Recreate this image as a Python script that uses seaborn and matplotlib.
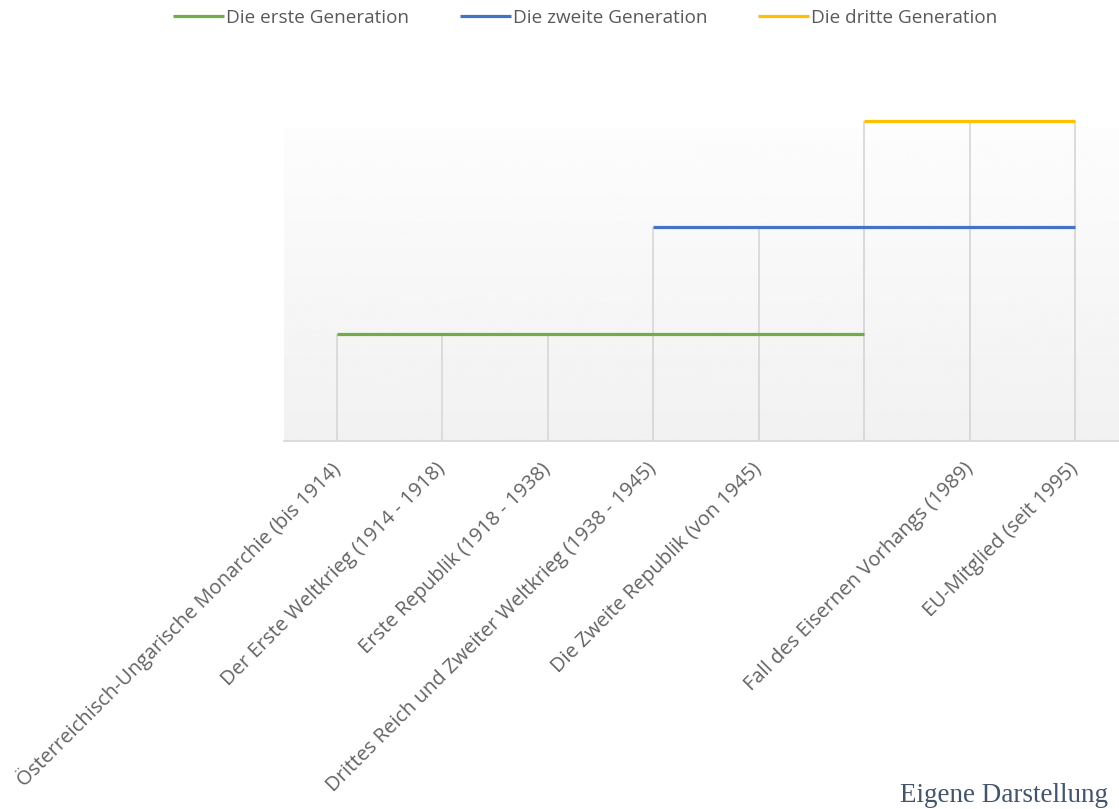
import numpy as np
import pandas as pd
import matplotlib
matplotlib.use("Agg")
import matplotlib.pyplot as plt
import seaborn as sns

categories = [
    "Österreichisch-Ungarische Monarchie (bis 1914)",
    "Der Erste Weltkrieg (1914 - 1918)",
    "Erste Republik (1918 - 1938)",
    "Drittes Reich und Zweiter Weltkrieg (1938 - 1945)",
    "Die Zweite Republik (von 1945)",
    "",
    "Fall des Eisernen Vorhangs (1989)",
    "EU-Mitglied (seit 1995)",
]
series_names = ["Die erste Generation", "Die zweite Generation", "Die dritte Generation"]
gen1 = [1, 1, 1, 1, 1, 1, np.nan, np.nan]
gen2 = [np.nan, np.nan, np.nan, 2, 2, 2, 2, 2]
gen3 = [np.nan, np.nan, np.nan, np.nan, np.nan, 3, 3, 3]
colors = ["#70ad47", "#4472c4", "#ffc000"]

sns.set_theme(style="white")
plt.rcParams["font.family"] = ["Open Sans", "DejaVu Sans"]

rows = []
for name, vals in zip(series_names, [gen1, gen2, gen3]):
    for i, v in enumerate(vals):
        rows.append({"pos": i, "value": v, "series": name})
df = pd.DataFrame(rows).dropna()

fig = plt.figure(figsize=(11.19, 8.09), dpi=100)
ax = fig.add_axes([284 / 1119, 1 - 441 / 809, 844 / 1119, (441 - 128) / 809])
ax.set_xlim(-0.5, len(categories) - 0.5)
ax.set_ylim(0, 2.93)

# soft vertical gradient in the plot area
grad = np.linspace(0.99, 0.945, 256).reshape(-1, 1)
ax.imshow(grad, extent=[-0.5, len(categories) - 0.5, 0, 2.93], aspect="auto",
          cmap="gray", vmin=0, vmax=1, zorder=0)

# drop lines
for x, y in zip(df["pos"], df["value"]):
    ax.plot([x, x], [0, y], color="#d9d9d9", lw=1.3, zorder=1, clip_on=False)

sns.lineplot(data=df, x="pos", y="value", hue="series", hue_order=series_names,
             palette=colors, linewidth=2.3, ax=ax, zorder=3, estimator=None,
             legend=True)
for line in ax.lines:
    line.set_clip_on(False)
    line.set_solid_capstyle("butt")

for s in ["top", "right", "left"]:
    ax.spines[s].set_visible(False)
ax.spines["bottom"].set_color("#d9d9d9")
ax.spines["bottom"].set_linewidth(1.3)

ax.set_yticks([])
ax.set_xticks(range(len(categories)))
ax.set_xticklabels(categories, rotation=45, ha="right", va="center",
                   rotation_mode="anchor", fontsize=14.5, color="#636363")
ax.tick_params(axis="x", length=0, pad=18)
ax.set_xlabel("")
ax.set_ylabel("")

handles, labels = ax.get_legend_handles_labels()
ax.legend(handles, labels, loc="center", bbox_to_anchor=(585 / 1119, 1 - 18 / 809),
          bbox_transform=fig.transFigure, ncol=3, frameon=False, fontsize=13.6,
          labelcolor="#595959", handlelength=2.7, handletextpad=0.1, columnspacing=2.7)

fig.text(1108 / 1119, 1 - 802 / 809, "Eigene Darstellung", ha="right", va="baseline",
         fontsize=19.5, color="#44546a", family="Liberation Serif")

fig.savefig("out.png", dpi=100)
